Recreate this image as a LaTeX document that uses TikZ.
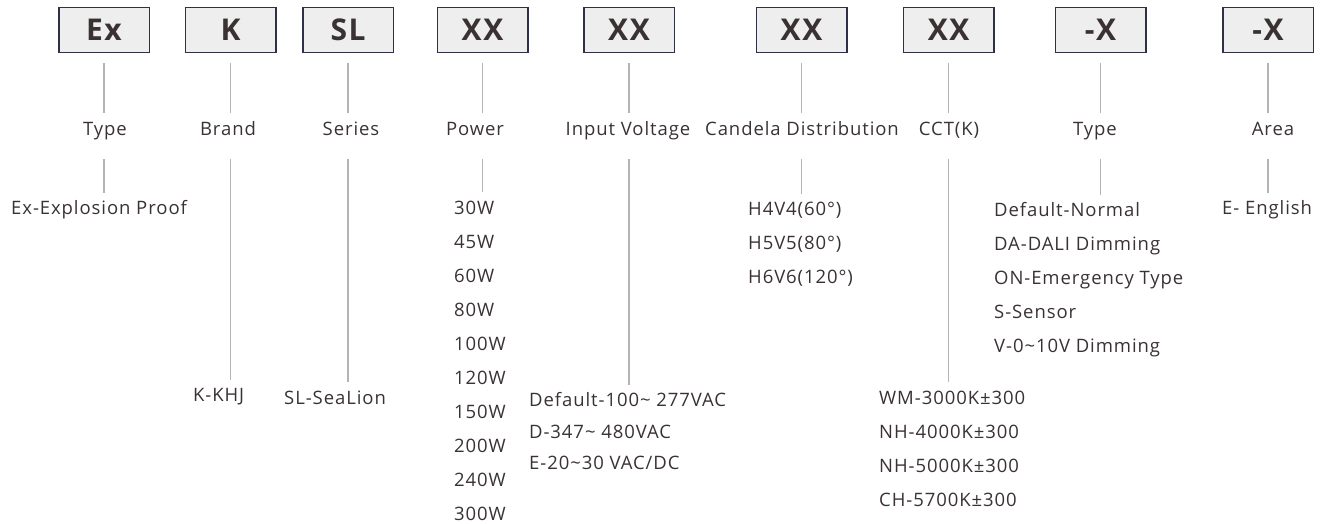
\documentclass[tikz,border=0pt]{standalone}
\usepackage{fontspec}
\setmainfont{Open Sans}[LetterSpace=5]
\usepackage{tikz}
\usetikzlibrary{positioning}
\definecolor{CodeEdge}{HTML}{2E3146}
\definecolor{CodeFill}{HTML}{EEEEEE}
\definecolor{InkText}{HTML}{3A3232}
\definecolor{StemGray}{HTML}{B4B4B4}

\begin{document}
\begin{tikzpicture}[
  x=1pt, y=-1pt,
  text=InkText,
  code/.style={
    rectangle, draw=CodeEdge, fill=CodeFill, line width=1.5pt,
    minimum width=90.5pt, minimum height=45pt, inner sep=0pt,
    font=\fontsize{30}{30}\selectfont\bfseries
  },
  field/.style={
    inner sep=0pt, text height=14pt, text depth=4pt, anchor=base,
    font=\fontsize{18.5}{20}\selectfont
  },
  opts/.style={
    inner sep=0pt, anchor=north west, align=left,
    font=\fontsize{18.5}{34}\selectfont
  },
  stem/.style={draw=StemGray, line width=1.2pt},
]
\useasboundingbox (0,0) rectangle (1320,524);

% code boxes
\node[code] (cEx)     at (104,30)   {Ex};
\node[code] (cBrand)  at (230.5,30) {K};
\node[code] (cSeries) at (348,30)   {SL};
\node[code] (cPower)  at (482.5,30) {XX};
\node[code] (cVolt)   at (629,30)   {XX};
\node[code] (cBeam)   at (801.5,30) {XX};
\node[code] (cCCT)    at (948.5,30) {XX};
\node[code] (cType)   at (1100.5,30){-X};
\node[code] (cArea)   at (1268,30)  {-X};

% field names
\node[field] (lEx)     at (105,135.5)  {Type};
\node[field] (lBrand)  at (228,135.5)  {Brand};
\node[field] (lSeries) at (351,135.5)  {Series};
\node[field] (lPower)  at (475,135.5)  {Power};
\node[field] (lVolt)   at (628,135.5)  {Input Voltage};
\node[field] (lBeam)   at (802,135.5)  {Candela Distribution};
\node[field] (lCCT)    at (949,135.5)  {CCT(K)};
\node[field] (lType)   at (1095,135.5) {Type};
\node[field] (lArea)   at (1273,135.5) {Area};

% options (top of first line)
\node[opts] (oEx)     at (11,200.5)   {Ex-Explosion Proof};
\node[opts] (oBrand)  at (193,388.4)  {K-KHJ};
\node[opts] (oSeries) at (284,390.4)  {SL-SeaLion};
\node[opts] (oPower)  at (454,200.4)  {30W\\45W\\60W\\80W\\100W\\120W\\150W\\200W\\240W\\300W};
\node[opts, font=\fontsize{18.5}{31.5}\selectfont] (oVolt) at (529,392.5)
  {Default-100\textasciitilde{} 277VAC\\D-347\textasciitilde{} 480VAC\\E-20\textasciitilde30 VAC/DC};
\node[opts] (oBeam)   at (748,201.5)  {H4V4(60°)\\H5V5(80°)\\H6V6(120°)};
\node[opts] (oCCT)    at (879,390.4)  {WM-3000K±300\\NH-4000K±300\\NH-5000K±300\\CH-5700K±300};
\node[opts] (oType)   at (994,202.5)  {Default-Normal\\DA-DALI Dimming\\ON-Emergency Type\\S-Sensor\\V-0\textasciitilde10V Dimming};
\node[opts] (oArea)   at (1222,200.5) {E- English};

% stems
\foreach \k in {Ex,Brand,Series,Power,Volt,Beam,CCT,Type,Area}{
  \draw[stem, shorten <=10pt, shorten >=8.5pt] (c\k.south) -- (c\k.south |- l\k.north);
  \draw[stem, shorten <=19.5pt, shorten >=8pt] (c\k.south |- l\k.south) -- (c\k.south |- o\k.north);
}

\end{tikzpicture}
\end{document}
